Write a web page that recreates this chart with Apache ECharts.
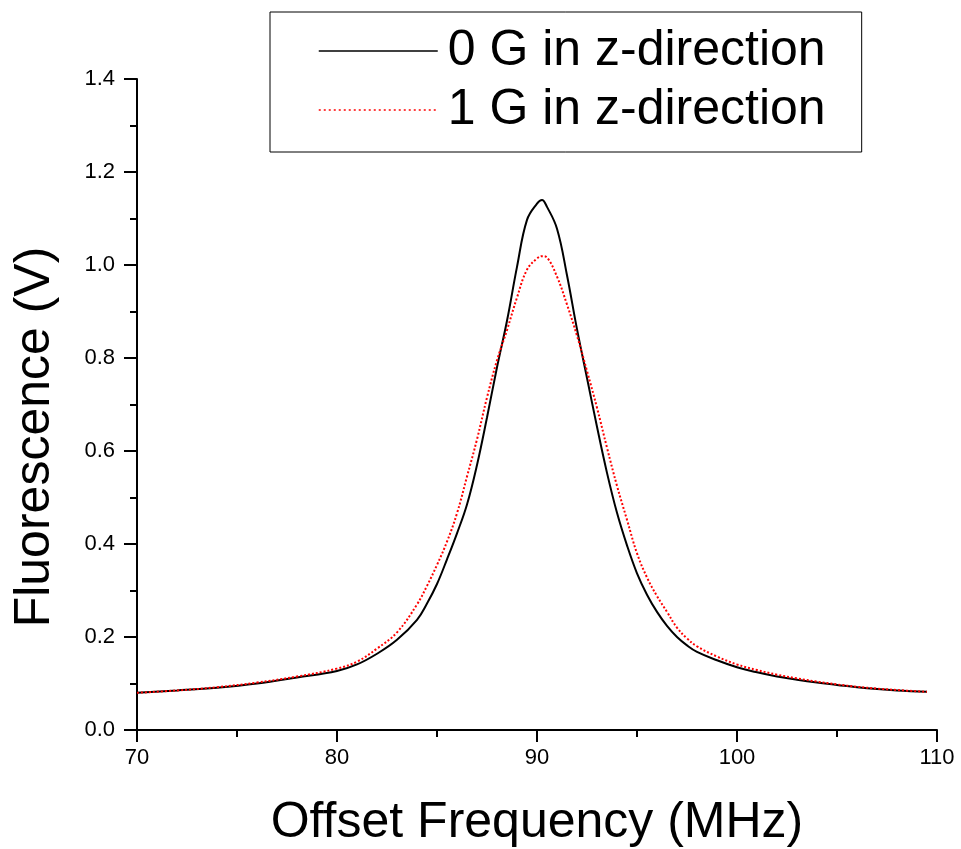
<!DOCTYPE html>
<html>
<head>
<meta charset="utf-8">
<script src="https://cdn.jsdelivr.net/npm/echarts@6/dist/echarts.min.js"></script>
<style>
  html, body { margin: 0; padding: 0; background: #fff; }
  #chart { width: 961px; height: 849px; }
</style>
</head>
<body>
<div id="chart"></div>
<script>
// offset frequency (MHz)
const freqs = [70, 72, 74, 76, 78, 80, 81, 82, 83, 84, 84.5, 85, 85.5, 86, 86.5, 87, 87.5, 88, 88.5, 89, 89.5,
  90, 90.25, 90.5, 91, 91.5, 92, 92.5, 93, 93.5, 94, 94.5, 95, 95.5, 96, 96.5, 97, 97.5, 98, 99, 100,
  101, 102, 103, 104, 105, 106, 107, 108, 109.5]
// fluorescence (V), 0 G
const zeroG = [0.080, 0.085, 0.091, 0.100, 0.113, 0.127, 0.141, 0.164, 0.194, 0.237, 0.272, 0.314, 0.367, 0.423, 0.485, 0.570, 0.672, 0.780, 0.880, 0.996, 1.097,
  1.132, 1.140, 1.125, 1.078, 0.978, 0.862, 0.757, 0.652, 0.553, 0.467, 0.397, 0.337, 0.291, 0.254, 0.224, 0.200, 0.182, 0.168, 0.150, 0.135,
  0.124, 0.115, 0.108, 0.102, 0.097, 0.092, 0.088, 0.085, 0.082]
// fluorescence (V), 1 G
const oneG = [0.080, 0.085, 0.092, 0.102, 0.115, 0.132, 0.147, 0.175, 0.210, 0.270, 0.310, 0.355, 0.405, 0.466, 0.545, 0.625, 0.715, 0.795, 0.860, 0.930, 0.990,
  1.014, 1.019, 1.016, 0.975, 0.915, 0.848, 0.772, 0.693, 0.607, 0.525, 0.452, 0.380, 0.328, 0.288, 0.254, 0.220, 0.197, 0.180, 0.158, 0.141,
  0.129, 0.119, 0.111, 0.104, 0.098, 0.093, 0.089, 0.086, 0.082]
const yTicks = ['0.0', '0.2', '0.4', '0.6', '0.8', '1.0', '1.2', '1.4']

const font = "'Liberation Sans', Arial, sans-serif"
const chart = echarts.init(document.getElementById('chart'))

const axisBase = {
  axisLine: { show: true, lineStyle: { color: '#000', width: 2 } },
  axisTick: { show: true, inside: false, length: 12, lineStyle: { color: '#000', width: 2 } },
  minorTick: { show: true, splitNumber: 2, length: 7, lineStyle: { color: '#000', width: 2 } },
  splitLine: { show: false }
}

chart.setOption({
  animation: false,
  backgroundColor: '#fff',
  grid: { left: 137, right: 24, top: 79, bottom: 119, outerBoundsMode: 'none' },
  legend: {
    orient: 'vertical',
    left: 270,
    top: 12,
    padding: [14, 36, 17, 48],
    borderColor: '#000',
    borderWidth: 1,
    borderRadius: 0,
    itemWidth: 119,
    itemHeight: 2,
    itemGap: 9,
    itemStyle: { color: 'rgba(0,0,0,0)', borderWidth: 0 },
    lineStyle: { width: 1.5 },
    textStyle: { fontFamily: font, fontSize: 50, color: '#000', lineHeight: 50, padding: [0, 0, 0, 5] },
    data: [
      { name: '0 G in z-direction' },
      { name: '1 G in z-direction', lineStyle: { type: [2, 3] } }
    ]
  },
  xAxis: Object.assign({}, axisBase, {
    type: 'value',
    min: 70,
    max: 110,
    interval: 10,
    axisLabel: { fontFamily: font, fontSize: 22, color: '#000', margin: 17 },
    name: 'Offset Frequency (MHz)',
    nameLocation: 'middle',
    nameGap: 68,
    nameTextStyle: { fontFamily: font, fontSize: 50, color: '#000' }
  }),
  yAxis: Object.assign({}, axisBase, {
    type: 'value',
    min: 0,
    max: 1.4,
    interval: 0.2,
    axisTick: { show: true, inside: false, length: 13, lineStyle: { color: '#000', width: 2 } },
    axisLabel: {
      fontFamily: font, fontSize: 22, color: '#000', margin: 22,
      formatter: v => yTicks[Math.round(v / 0.2)]
    }
  }),
  graphic: [{
    type: 'text',
    x: 35,
    y: 437,
    rotation: Math.PI / 2,
    style: {
      text: 'Fluorescence (V)',
      fontFamily: font,
      fontSize: 50,
      fill: '#000',
      textAlign: 'center',
      textVerticalAlign: 'middle'
    }
  }],
  series: [
    {
      name: '0 G in z-direction',
      type: 'line',
      smooth: 0.4,
      symbol: 'none',
      lineStyle: { color: '#000', width: 2 },
      itemStyle: { color: '#000' },
      data: freqs.map((f, i) => [f, zeroG[i]])
    },
    {
      name: '1 G in z-direction',
      type: 'line',
      smooth: 0.4,
      symbol: 'none',
      lineStyle: { color: '#ff0000', width: 2, type: [2, 2] },
      itemStyle: { color: '#ff0000' },
      data: freqs.map((f, i) => [f, oneG[i]])
    }
  ]
})
</script>
</body>
</html>
